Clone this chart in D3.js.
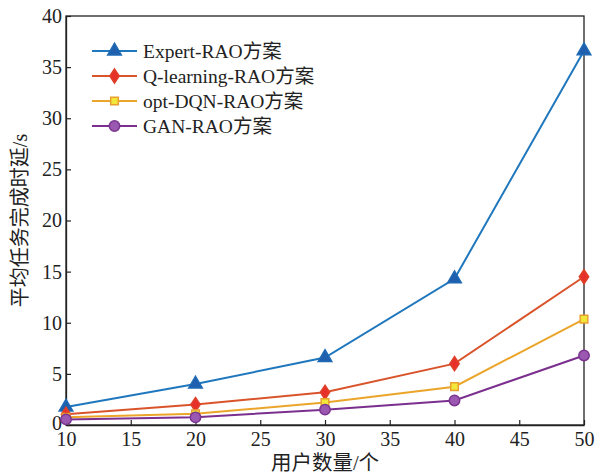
<!DOCTYPE html>
<html>
<head>
<meta charset="utf-8">
<script src="https://d3js.org/d3.v7.min.js"></script>
<style>
  body { margin: 0; background: #fff; }
  svg { display: block; }
</style>
</head>
<body>
<script>
// data
const users = [10, 20, 30, 40, 50];
const expert = [1.75, 4.0, 6.6, 14.3, 36.6];
const qlearn = [1.05, 2.0, 3.2, 6.0, 14.5];
const optdqn = [0.75, 1.1, 2.2, 3.75, 10.35];
const gan = [0.55, 0.75, 1.5, 2.4, 6.8];
const seriesNames = ["Expert-RAO方案", "Q-learning-RAO方案", "opt-DQN-RAO方案", "GAN-RAO方案"];
const xTicks = [10, 15, 20, 25, 30, 35, 40, 45, 50];
const yTicks = [0, 5, 10, 15, 20, 25, 30, 35, 40];

const series = [
  {name: seriesNames[0], values: expert, line: "#1f77bd", fill: "#1f5fae", stroke: "#1f6ab5", shape: "triangle"},
  {name: seriesNames[1], values: qlearn, line: "#d9542a", fill: "#e8302a", stroke: "#e0402a", shape: "diamond"},
  {name: seriesNames[2], values: optdqn, line: "#eba52a", fill: "#f2e63a", stroke: "#e8a030", shape: "square"},
  {name: seriesNames[3], values: gan, line: "#7b2f8e", fill: "#9a58b0", stroke: "#7b3590", shape: "circle"}
];

const W = 596, H = 473;
const margin = {top: 16, right: 12, bottom: 48, left: 66};
const numFont = "'Liberation Serif', 'DejaVu Serif', serif";
const cjkFont = "'Liberation Serif', 'Noto Sans CJK SC', serif";

const svg = d3.select("body").append("svg")
  .attr("width", W)
  .attr("height", H);

const x = d3.scaleLinear()
  .domain([10, 50])
  .range([margin.left, W - margin.right]);

const y = d3.scaleLinear()
  .domain([0, 40])
  .range([H - margin.bottom, margin.top]);

// frame
svg.append("rect")
  .attr("x", margin.left)
  .attr("y", margin.top)
  .attr("width", W - margin.right - margin.left)
  .attr("height", H - margin.bottom - margin.top)
  .attr("fill", "none")
  .attr("stroke", "#222")
  .attr("stroke-width", 1.3);

// axes with inward ticks
const xAxis = svg.append("g")
  .attr("transform", `translate(0,${H - margin.bottom})`)
  .call(d3.axisBottom(x).tickValues(xTicks).tickSize(-5).tickPadding(7).tickSizeOuter(0));

const yAxis = svg.append("g")
  .attr("transform", `translate(${margin.left},0)`)
  .call(d3.axisLeft(y).tickValues(yTicks).tickSize(-5).tickPadding(4).tickSizeOuter(0));

[xAxis, yAxis].forEach(g => {
  g.select(".domain").attr("stroke", "#222").attr("stroke-width", 1.3);
  g.selectAll(".tick line").attr("stroke", "#222").attr("stroke-width", 1.2);
  g.selectAll("text")
    .attr("font-family", numFont)
    .attr("font-size", 20)
    .attr("fill", "#222");
});
xAxis.selectAll("text").attr("dy", "0.72em");
// the "0" sits just above the "10" corner label, as in the reference
yAxis.selectAll(".tick text").filter(d => d === 0).attr("dy", "0.2em");

// axis labels
svg.append("text")
  .attr("x", (margin.left + W - margin.right) / 2)
  .attr("y", 470)
  .attr("text-anchor", "middle")
  .attr("font-family", cjkFont)
  .attr("font-size", 20.5)
  .attr("fill", "#222")
  .text("用户数量/个");

svg.append("text")
  .attr("transform", "rotate(-90)")
  .attr("x", -(margin.top + H - margin.bottom) / 2)
  .attr("y", 27)
  .attr("text-anchor", "middle")
  .attr("font-family", cjkFont)
  .attr("font-size", 20)
  .attr("fill", "#222")
  .text("平均任务完成时延/s");

const symbolFor = {
  triangle: d3.symbol().type(d3.symbolTriangle).size(80),
  diamond: d3.symbol().type(d3.symbolDiamond).size(55),
  square: d3.symbol().type(d3.symbolSquare).size(58),
  circle: d3.symbol().type(d3.symbolCircle).size(85)
};

function drawMarker(g, s, cx, cy) {
  g.append("path")
    .attr("d", symbolFor[s.shape]())
    .attr("transform", s.shape === "diamond"
      ? `translate(${cx},${cy}) scale(1.15,1)`
      : `translate(${cx},${cy})`)
    .attr("fill", s.fill)
    .attr("stroke", s.stroke)
    .attr("stroke-width", 1.5);
}

const line = d3.line()
  .x((d, i) => x(users[i]))
  .y(d => y(d));

series.forEach(s => {
  svg.append("path")
    .datum(s.values)
    .attr("fill", "none")
    .attr("stroke", s.line)
    .attr("stroke-width", 2)
    .attr("d", line);
});

series.forEach(s => {
  const g = svg.append("g");
  s.values.forEach((v, i) => drawMarker(g, s, x(users[i]), y(v)));
});

// legend
const legend = svg.append("g");
series.forEach((s, i) => {
  const ly = 51 + i * 25;
  legend.append("line")
    .attr("x1", 92).attr("x2", 137)
    .attr("y1", ly).attr("y2", ly)
    .attr("stroke", s.line)
    .attr("stroke-width", 2);
  drawMarker(legend, s, 114.5, ly);
  legend.append("text")
    .attr("x", 143)
    .attr("y", ly + 7)
    .attr("font-family", cjkFont)
    .attr("font-size", 19.5)
    .attr("fill", "#222")
    .text(s.name);
});
</script>
</body>
</html>
